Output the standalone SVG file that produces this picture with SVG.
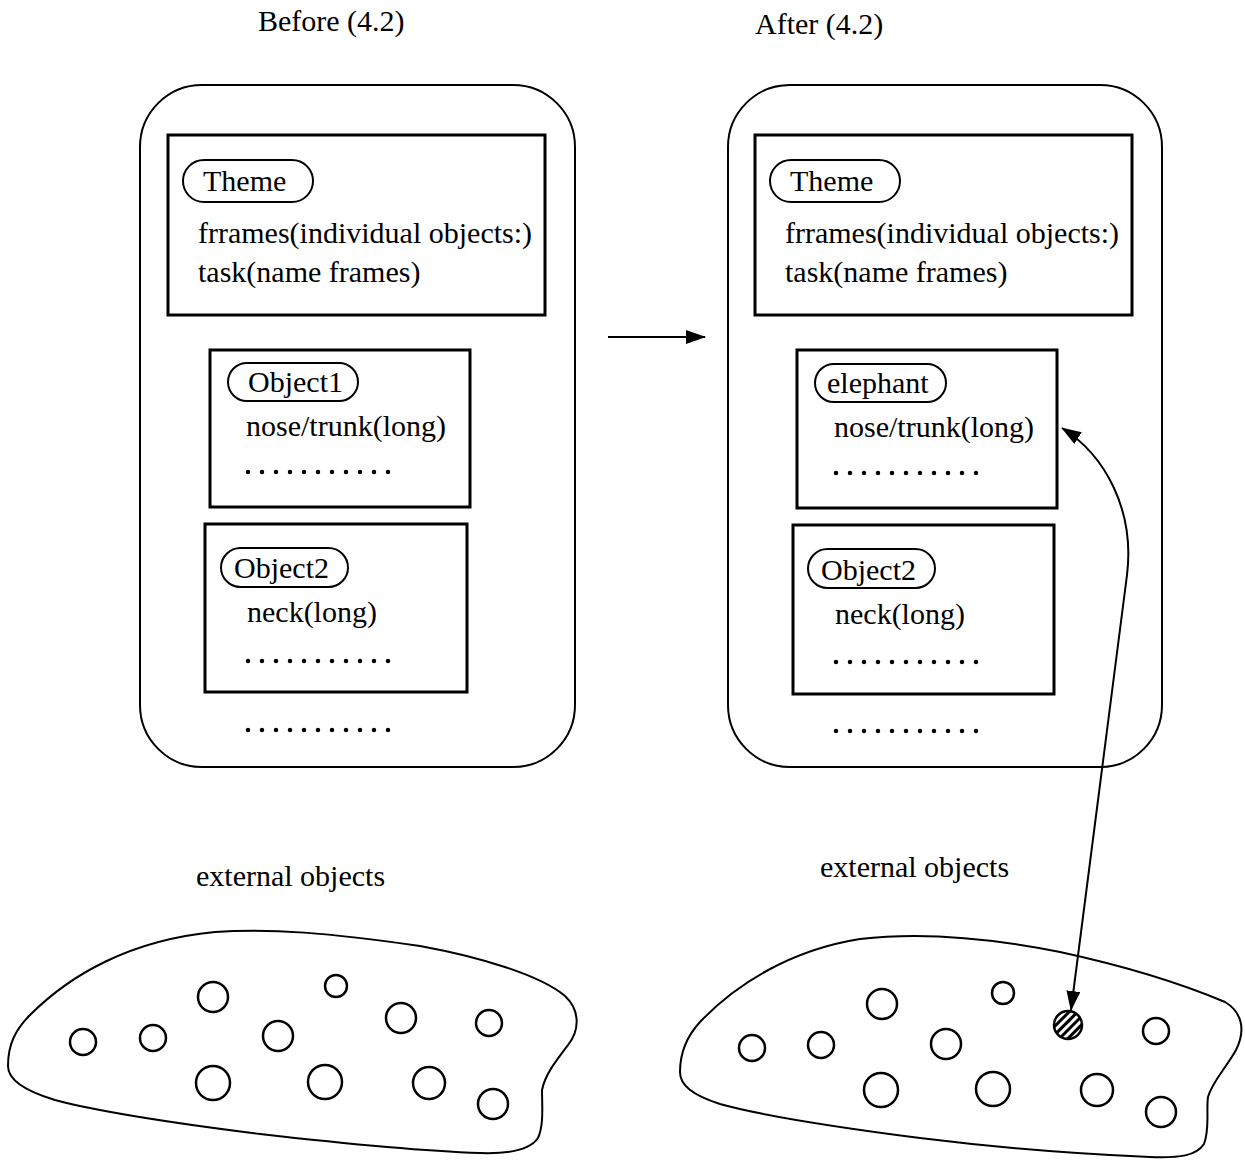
<svg xmlns="http://www.w3.org/2000/svg" width="1245" height="1161" viewBox="0 0 1245 1161">
<style>
text{font-family:"Liberation Serif","Times New Roman",serif;font-size:30px;fill:#000}
.outer{fill:none;stroke:#000;stroke-width:2}
.box{fill:none;stroke:#000;stroke-width:3}
.pill{fill:none;stroke:#000;stroke-width:2}
.dots{stroke:#000;stroke-width:4.5;stroke-linecap:round;stroke-dasharray:0 14}
.blob{fill:none;stroke:#000;stroke-width:2}
.c{fill:none;stroke:#000;stroke-width:2.5}
.conn{fill:none;stroke:#000;stroke-width:2}
</style>
<defs>
<marker id="ah" viewBox="0 0 20 14" refX="19" refY="7" markerWidth="20" markerHeight="14" markerUnits="userSpaceOnUse" orient="auto-start-reverse">
<path d="M0,0 L20,7 L0,14 Z" fill="#000"/>
</marker>
<pattern id="hatch" patternUnits="userSpaceOnUse" width="6" height="6" patternTransform="rotate(45)">
<rect width="6" height="6" fill="#fff"/>
<rect width="3" height="6" fill="#000"/>
</pattern>
</defs>
<rect width="1245" height="1161" fill="#fff"/>

<text x="258" y="31">Before (4.2)</text>
<text x="755" y="34">After (4.2)</text>

<g id="before-panel">
<rect class="outer" x="140" y="85" width="435" height="682" rx="62"/>
<g id="before-theme">
<rect class="box" x="168" y="135" width="377" height="180"/>
<rect class="pill" x="183" y="160" width="130" height="42" rx="21"/>
<text x="203" y="191">Theme</text>
<text x="198" y="243">frrames(individual objects:)</text>
<text x="198" y="282">task(name frames)</text>
</g>
<g id="before-object1">
<rect class="box" x="210" y="350" width="260" height="157"/>
<rect class="pill" x="228" y="363" width="130" height="38" rx="19"/>
<text x="248" y="392">Object1</text>
<text x="246" y="436">nose/trunk(long)</text>
<line class="dots" x1="248" y1="472" x2="393" y2="472"/>
</g>
<g id="before-object2">
<rect class="box" x="205" y="524" width="262" height="168"/>
<rect class="pill" x="221" y="548" width="127" height="39" rx="19.5"/>
<text x="234" y="578">Object2</text>
<text x="247" y="622">neck(long)</text>
<line class="dots" x1="248" y1="661" x2="393" y2="661"/>
</g>
<line class="dots" x1="248" y1="730" x2="393" y2="730"/>
</g>

<g id="after-panel">
<rect class="outer" x="728" y="85" width="434" height="682" rx="62"/>
<g id="after-theme">
<rect class="box" x="755" y="135" width="377" height="180"/>
<rect class="pill" x="770" y="160" width="130" height="42" rx="21"/>
<text x="790" y="191">Theme</text>
<text x="785" y="243">frrames(individual objects:)</text>
<text x="785" y="282">task(name frames)</text>
</g>
<g id="after-elephant">
<rect class="box" x="797" y="350" width="260" height="158"/>
<rect class="pill" x="815" y="364" width="131" height="38" rx="19"/>
<text x="827" y="393">elephant</text>
<text x="834" y="437">nose/trunk(long)</text>
<line class="dots" x1="836" y1="473" x2="981" y2="473"/>
</g>
<g id="after-object2">
<rect class="box" x="793" y="525" width="261" height="169"/>
<rect class="pill" x="808" y="549" width="127" height="39" rx="19.5"/>
<text x="821" y="580">Object2</text>
<text x="835" y="624">neck(long)</text>
<line class="dots" x1="836" y1="662" x2="981" y2="662"/>
</g>
<line class="dots" x1="836" y1="731" x2="981" y2="731"/>
</g>

<g id="before-external">
<text x="196" y="886">external objects</text>
<path class="blob" d="M8,1066 C8,1045 15,1030 30,1015 C70,975 130,940 215,932 C270,928 330,933 420,946 C480,957 540,975 565,996 C580,1010 580,1030 568,1045 C555,1062 545,1075 542,1090 C542,1105 544,1125 538,1138 C530,1150 510,1154 480,1153 C420,1151 330,1142 260,1134 C180,1124 100,1112 55,1100 C25,1091 8,1080 8,1066 Z"/>
<circle class="c" cx="83" cy="1042" r="13"/>
<circle class="c" cx="153" cy="1038" r="13"/>
<circle class="c" cx="213" cy="997" r="15"/>
<circle class="c" cx="336" cy="986" r="11"/>
<circle class="c" cx="401" cy="1018" r="15"/>
<circle class="c" cx="489" cy="1023" r="13"/>
<circle class="c" cx="278" cy="1036" r="15"/>
<circle class="c" cx="213" cy="1083" r="17"/>
<circle class="c" cx="325" cy="1082" r="17"/>
<circle class="c" cx="429" cy="1083" r="16"/>
<circle class="c" cx="493" cy="1104" r="15"/>
</g>

<g id="after-external">
<text x="820" y="877">external objects</text>
<path class="blob" d="M680,1072 C680,1050 688,1035 700,1022 C735,985 790,950 860,939 C920,932 990,938 1060,952 C1120,965 1180,983 1225,1002 C1242,1012 1246,1030 1236,1050 C1226,1068 1212,1082 1208,1097 C1206,1112 1210,1128 1204,1144 C1196,1156 1180,1158 1150,1157 C1080,1154 1000,1148 920,1138 C850,1129 770,1118 720,1104 C692,1095 680,1085 680,1072 Z"/>
<circle class="c" cx="752" cy="1048" r="13"/>
<circle class="c" cx="821" cy="1045" r="13"/>
<circle class="c" cx="882" cy="1004" r="15"/>
<circle class="c" cx="1003" cy="993" r="11"/>
<circle class="c" cx="946" cy="1044" r="15"/>
<circle cx="1068" cy="1025" r="14" fill="url(#hatch)" stroke="#000" stroke-width="2.5"/>
<circle class="c" cx="1156" cy="1031" r="13"/>
<circle class="c" cx="881" cy="1090" r="17"/>
<circle class="c" cx="993" cy="1089" r="17"/>
<circle class="c" cx="1097" cy="1090" r="16"/>
<circle class="c" cx="1161" cy="1112" r="15"/>
</g>

<g id="connectors">
<line class="conn" x1="608" y1="337" x2="705" y2="337" marker-end="url(#ah)"/>
<path class="conn" d="M1062,428 C1105,455 1135,510 1127,575 L1071,1010" marker-start="url(#ah)" marker-end="url(#ah)"/>
</g>
</svg>
